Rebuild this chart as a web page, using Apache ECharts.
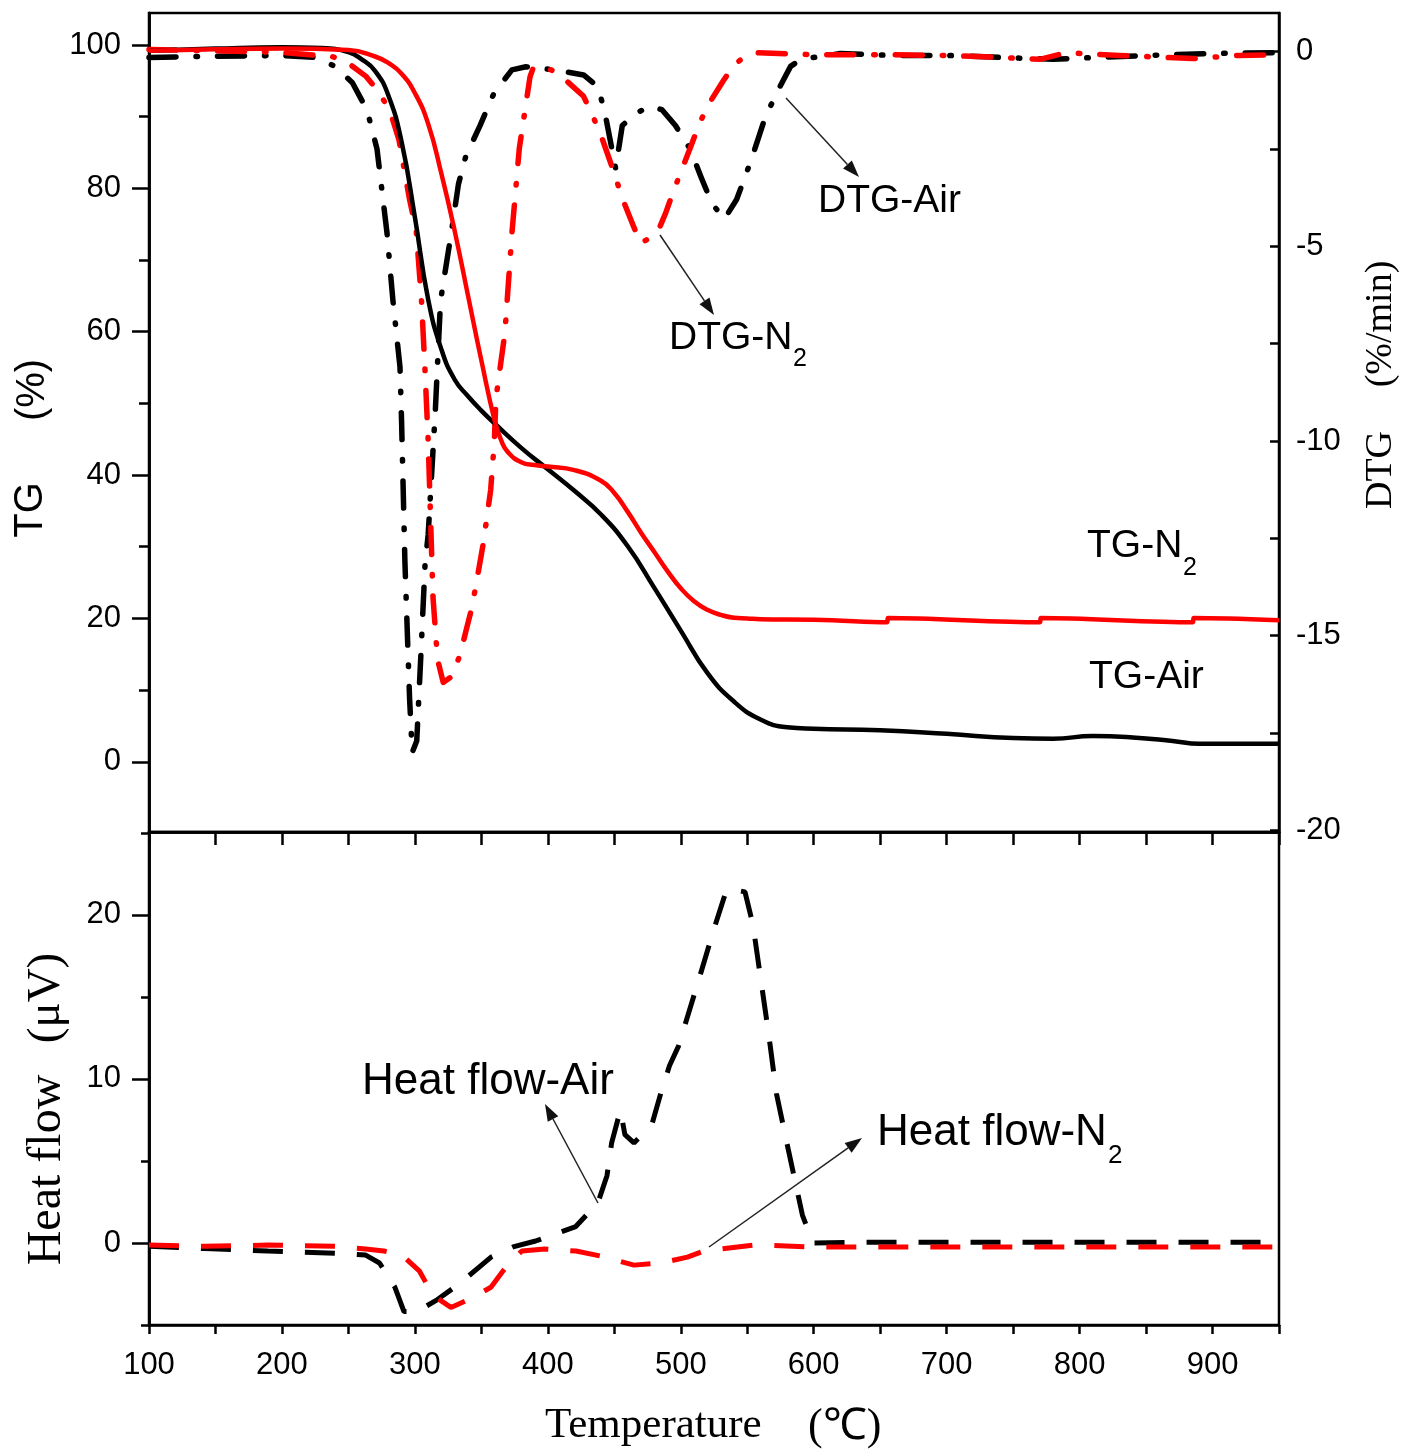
<!DOCTYPE html>
<html>
<head>
<meta charset="utf-8">
<title>TG / DTG / Heat flow</title>
<script src="https://cdn.jsdelivr.net/npm/echarts@6/dist/echarts.min.js"></script>
<style>
  html, body { margin: 0; padding: 0; background: #fff; }
  #chart { width: 1414px; height: 1452px; }
</style>
</head>
<body>
<div id="chart"></div>
<script>
// ---- Thermogravimetric data (temperature in °C) ----
// TG curves, weight remaining (%)
const tgAirT = [100, 150, 200, 230, 250, 260, 270, 280, 290, 300, 310, 320, 330, 340, 350, 360, 380, 400, 420, 440, 460, 480, 500, 520, 540, 560, 580, 600, 650, 700, 750, 780, 810, 840, 870, 890, 950];
const tgAir  = [99.2, 99.5, 99.7, 99.6, 99.0, 98.0, 96.4, 93.0, 86.5, 76.0, 64.5, 57.5, 53.3, 51.0, 49.0, 47.2, 43.8, 40.8, 37.8, 34.5, 30.1, 24.3, 18.3, 12.4, 8.4, 5.9, 4.8, 4.6, 4.4, 3.9, 3.3, 3.2, 3.6, 3.4, 2.9, 2.5, 2.5];

const tgN2T = [100, 150, 200, 250, 270, 280, 290, 300, 310, 320, 330, 340, 350, 360, 365, 370, 380, 390, 400, 420, 440, 450, 460, 470, 480, 490, 500, 510, 520, 530, 540, 550, 560, 600, 655, 656, 770, 771, 885, 886, 950];
const tgN2  = [99.2, 99.4, 99.5, 99.3, 98.4, 97.5, 96.0, 93.3, 89.0, 82.0, 74.0, 65.0, 56.0, 47.6, 44.8, 43.2, 41.8, 41.4, 41.2, 40.7, 39.2, 37.5, 34.9, 32.0, 29.3, 26.6, 24.2, 22.4, 21.2, 20.5, 20.1, 20.0, 19.9, 19.8, 19.45, 20.05, 19.45, 20.05, 19.45, 20.05, 19.75];

// DTG curves (%/min)
const dtgAirT = [100, 150, 200, 225, 240, 253, 264, 271.5, 279, 283.5, 288.8, 290, 292.5, 296, 298, 301.4, 304.5, 307.6, 310, 315.4, 319.3, 327.4, 332.8, 338.2, 349, 359.5, 373, 383.5, 405, 426.9, 437.7, 443, 448.2, 451, 456, 467, 477.5, 485.7, 496, 507, 515, 523.4, 532.8, 542, 552.8, 563.8, 574.6, 582.6, 590.5, 620, 660, 700, 740, 780, 813, 850, 900, 950];
const dtgAir  = [-0.15, -0.12, -0.1, -0.15, -0.38, -0.8, -1.5, -2.5, -4.65, -6.4, -8.1, -9.5, -13.1, -16.6, -18.0, -17.7, -15.5, -13.2, -12.4, -9.2, -6.4, -4.65, -3.4, -2.7, -1.9, -1.07, -0.47, -0.39, -0.47, -0.6, -0.9, -1.58, -2.5, -3.0, -1.9, -1.57, -1.4, -1.49, -1.9, -2.5, -3.2, -3.9, -4.3, -3.8, -2.8, -1.66, -0.9, -0.38, -0.2, -0.05, -0.1, -0.1, -0.15, -0.2, -0.15, -0.1, -0.05, -0.03];

const dtgN2T = [100, 150, 200, 238, 250, 263, 272, 281, 288, 296, 301, 305, 307.5, 310, 313.6, 317, 321.3, 327.6, 333.9, 339, 342.7, 346.5, 351.6, 357, 359.7, 361, 367.7, 373, 378.5, 386.6, 389.3, 402.6, 413.4, 426.9, 435, 440.3, 448.2, 456.4, 464.5, 469.8, 476, 483.3, 488.6, 494, 500, 507.4, 514, 521, 532, 540, 548, 558, 600, 650, 700, 740, 770, 790, 830, 885, 920, 950];
const dtgN2  = [0.05, 0.02, -0.02, -0.13, -0.3, -0.63, -1.0, -1.5, -2.26, -3.8, -4.6, -6.4, -8.1, -10.0, -14.0, -15.6, -16.2, -16.05, -15.5, -14.8, -14.3, -13.6, -12.6, -11.26, -10.05, -8.9, -7.23, -4.66, -2.5, -0.65, -0.39, -0.47, -0.73, -1.15, -1.75, -2.18, -2.95, -3.8, -4.49, -4.92, -4.8, -4.58, -4.15, -3.63, -3.1, -2.45, -1.85, -1.35, -0.75, -0.35, -0.13, -0.03, -0.08, -0.08, -0.1, -0.15, -0.2, -0.03, -0.1, -0.18, -0.1, -0.08];

// Heat flow curves (µV)
const hfAirT = [100, 142, 189.5, 240, 263, 273.4, 285, 291.8, 301.6, 317, 334, 357.3, 373.8, 390.8, 421, 437.7, 444.5, 448, 454.6, 458, 464.8, 478.2, 484.9, 491.5, 498.3, 513.4, 525, 534.7, 548.3, 554.3, 560.3, 566, 572, 579.8, 591.5, 599.4, 650, 700, 800, 950];
const hfAir  = [-0.2, -0.34, -0.49, -0.62, -0.74, -1.22, -2.7, -4.18, -4.18, -3.45, -2.45, -0.86, -0.24, 0.12, 1.0, 2.46, 4.1, 6.1, 8.1, 6.6, 6.1, 7.2, 9.1, 10.8, 12.0, 16.0, 19.15, 21.6, 21.4, 19.4, 16.0, 12.8, 9.1, 6.1, 1.7, 0.0, 0.05, 0.05, 0.05, 0.05];

const hfN2T = [100, 142, 189.5, 240, 263, 276.7, 290.3, 303.5, 313.6, 327.1, 340.5, 357.2, 370.8, 380.5, 397.5, 421.2, 440, 464.8, 484.9, 505, 517.3, 556.4, 600, 700, 800, 950];
const hfN2  = [-0.13, -0.2, -0.13, -0.2, -0.37, -0.49, -0.74, -1.72, -3.19, -3.93, -3.45, -2.7, -1.22, -0.49, -0.37, -0.49, -0.8, -1.35, -1.22, -0.86, -0.49, -0.12, -0.25, -0.25, -0.25, -0.25];

// ---- Axis ticks and labels ----
const xTicks  = [100, 150, 200, 250, 300, 350, 400, 450, 500, 550, 600, 650, 700, 750, 800, 850, 900, 950];
const xLabels = [100, 200, 300, 400, 500, 600, 700, 800, 900];
const tgMajor = [0, 20, 40, 60, 80, 100];
const tgMinor = [10, 30, 50, 70, 90];
const dtgTicks  = [-20, -17.5, -15, -12.5, -10, -7.5, -5, -2.5, 0];
const dtgLabels = [-20, -15, -10, -5, 0];
const hfMajor = [0, 10, 20];
const hfMinor = [-5, 5, 15, 25];

const pairs = (xs, ys) => xs.map((x, i) => [x, ys[i]]);

const SANS = 'Liberation Sans, Arial, sans-serif';
const SERIF = 'Liberation Serif, Times New Roman, serif';
const AX_W = 2.5;
const labelStyle = { color: '#000', fontFamily: SANS, fontSize: 31 };

const chart = echarts.init(document.getElementById('chart'), null, { renderer: 'canvas' });

// arrow made of a thin line and a filled head
function arrow(x1, y1, x2, y2) {
  const ang = Math.atan2(y2 - y1, x2 - x1);
  const len = 17, hw = 6;
  const bx = x2 - len * Math.cos(ang), by = y2 - len * Math.sin(ang);
  const px = -Math.sin(ang) * hw, py = Math.cos(ang) * hw;
  return [
    { type: 'line', shape: { x1: x1, y1: y1, x2: bx, y2: by }, style: { stroke: '#222', lineWidth: 1.5 }, z: 50 },
    { type: 'polygon', shape: { points: [[x2, y2], [bx + px, by + py], [bx - px, by - py]] }, style: { fill: '#111' }, z: 50 }
  ];
}

function txt(text, x, y, size, font) {
  return {
    type: 'text', x: x, y: y, z: 60,
    style: { text: text, fill: '#000', font: size + 'px ' + font, align: 'left', verticalAlign: 'middle' }
  };
}

function vtxt(text, x, y, size, font) {
  return {
    type: 'text', x: x, y: y, rotation: Math.PI / 2, z: 60,
    style: { text: text, fill: '#000', font: size + 'px ' + font, align: 'center', verticalAlign: 'middle' }
  };
}

const graphics = [].concat(
  // curve labels
  [txt('DTG-Air', 818, 201, 39, SANS)],
  [txt('DTG-N', 669, 338, 39, SANS), txt('2', 793, 359, 25, SANS)],
  [txt('TG-N', 1087, 546, 39, SANS), txt('2', 1183, 568, 25, SANS)],
  [txt('TG-Air', 1089, 677, 39, SANS)],
  [txt('Heat flow-Air', 362, 1082, 44, SANS)],
  [txt('Heat flow-N', 877, 1133, 44, SANS), txt('2', 1108, 1156, 26, SANS)],
  arrow(786, 98, 859, 177),
  arrow(660, 235, 714, 315),
  arrow(598, 1203, 545, 1104),
  arrow(709, 1247, 862, 1138),
  // axis titles
  [vtxt('TG', 31, 510, 40, SANS), vtxt('(%)', 33, 390, 40, SANS)],
  [vtxt('DTG', 1381, 470, 38, SERIF), vtxt('(%/min)', 1381, 324, 38, SERIF)],
  [vtxt('Heat flow', 47, 1170, 48, SERIF), vtxt('(μV)', 47, 998, 47, SERIF)],
  [txt('Temperature', 545, 1426, 43, SERIF), txt('(℃)', 808, 1427, 44, SERIF)]
);

const hideAll = { axisTick: { show: false }, axisLabel: { show: false }, splitLine: { show: false } };

const option = {
  backgroundColor: '#fff',
  animation: false,
  grid: [
    { left: 149, top: 13, width: 1130, height: 819, show: true, borderColor: '#000', borderWidth: AX_W, backgroundColor: 'transparent' },
    { left: 149, top: 832, width: 1130, height: 493, show: true, borderColor: '#000', borderWidth: AX_W, backgroundColor: 'transparent' }
  ],
  xAxis: [
    Object.assign({ gridIndex: 0, type: 'value', min: 100, max: 950, position: 'bottom',
      axisLine: { onZero: false, lineStyle: { color: '#000', width: AX_W } } }, hideAll),
    { gridIndex: 1, type: 'value', min: 100, max: 950, position: 'bottom',
      axisLine: { onZero: false, lineStyle: { color: '#000', width: AX_W } },
      axisTick: { show: true, inside: false, length: 9, customValues: xTicks, lineStyle: { color: '#000', width: AX_W } },
      axisLabel: Object.assign({ show: true, margin: 25, customValues: xLabels }, labelStyle),
      splitLine: { show: false } },
    { gridIndex: 1, type: 'value', min: 100, max: 950, position: 'top',
      axisLine: { onZero: false, lineStyle: { color: '#000', width: AX_W } },
      axisTick: { show: true, inside: true, length: 13, customValues: xTicks, lineStyle: { color: '#000', width: AX_W } },
      axisLabel: { show: false }, splitLine: { show: false } }
  ],
  yAxis: [
    { gridIndex: 0, type: 'value', min: -9.8, max: 104.47, position: 'left',
      axisLine: { show: true, onZero: false, lineStyle: { color: '#000', width: AX_W } },
      axisTick: { show: true, inside: false, length: 17, customValues: tgMajor, lineStyle: { color: '#000', width: AX_W } },
      axisLabel: Object.assign({ show: true, margin: 28, customValues: tgMajor }, labelStyle),
      splitLine: { show: false } },
    { gridIndex: 0, type: 'value', min: -9.8, max: 104.47, position: 'left',
      axisLine: { show: true, onZero: false, lineStyle: { color: '#000', width: AX_W } },
      axisTick: { show: true, inside: false, length: 10, customValues: tgMinor, lineStyle: { color: '#000', width: AX_W } },
      axisLabel: { show: false }, splitLine: { show: false } },
    { gridIndex: 0, type: 'value', min: -20.04, max: 0.99, position: 'right',
      axisLine: { show: true, onZero: false, lineStyle: { color: '#000', width: AX_W } },
      axisTick: { show: true, inside: true, length: 9, customValues: dtgTicks, lineStyle: { color: '#000', width: AX_W } },
      axisLabel: Object.assign({ show: true, margin: 17, customValues: dtgLabels }, labelStyle),
      splitLine: { show: false } },
    { gridIndex: 1, type: 'value', min: -5, max: 25.05, position: 'left',
      axisLine: { show: true, onZero: false, lineStyle: { color: '#000', width: AX_W } },
      axisTick: { show: true, inside: false, length: 17, customValues: hfMajor, lineStyle: { color: '#000', width: AX_W } },
      axisLabel: Object.assign({ show: true, margin: 28, customValues: hfMajor }, labelStyle),
      splitLine: { show: false } },
    { gridIndex: 1, type: 'value', min: -5, max: 25.05, position: 'left',
      axisLine: { show: true, onZero: false, lineStyle: { color: '#000', width: AX_W } },
      axisTick: { show: true, inside: false, length: 8, customValues: hfMinor, lineStyle: { color: '#000', width: AX_W } },
      axisLabel: { show: false }, splitLine: { show: false } }
  ],
  series: [
    { name: 'DTG-Air', type: 'line', xAxisIndex: 0, yAxisIndex: 2, data: pairs(dtgAirT, dtgAir),
      symbol: 'none', smooth: false, z: 3,
      lineStyle: { color: '#000', width: 5.5, type: [27, 20, 1.5, 20], cap: 'round', join: 'round' } },
    { name: 'DTG-N2', type: 'line', xAxisIndex: 0, yAxisIndex: 2, data: pairs(dtgN2T, dtgN2),
      symbol: 'none', smooth: false, z: 4,
      lineStyle: { color: '#ff0000', width: 5.5, type: [27, 20, 1.5, 20], cap: 'round', join: 'round' } },
    { name: 'TG-Air', type: 'line', xAxisIndex: 0, yAxisIndex: 0, data: pairs(tgAirT, tgAir),
      symbol: 'none', smooth: 0.5, z: 5,
      lineStyle: { color: '#000', width: 4.5, join: 'round' } },
    { name: 'TG-N2', type: 'line', xAxisIndex: 0, yAxisIndex: 0, data: pairs(tgN2T, tgN2),
      symbol: 'none', smooth: 0.5, z: 6,
      lineStyle: { color: '#ff0000', width: 4.5, join: 'round' } },
    { name: 'Heat flow-Air', type: 'line', xAxisIndex: 1, yAxisIndex: 3, data: pairs(hfAirT, hfAir),
      symbol: 'none', smooth: false, z: 3,
      lineStyle: { color: '#000', width: 5, type: [30, 22], cap: 'butt' } },
    { name: 'Heat flow-N2', type: 'line', xAxisIndex: 1, yAxisIndex: 3, data: pairs(hfN2T, hfN2),
      symbol: 'none', smooth: false, z: 4,
      lineStyle: { color: '#ff0000', width: 5, type: [30, 22], cap: 'butt' } }
  ],
  graphic: graphics
};

chart.setOption(option);
</script>
</body>
</html>
